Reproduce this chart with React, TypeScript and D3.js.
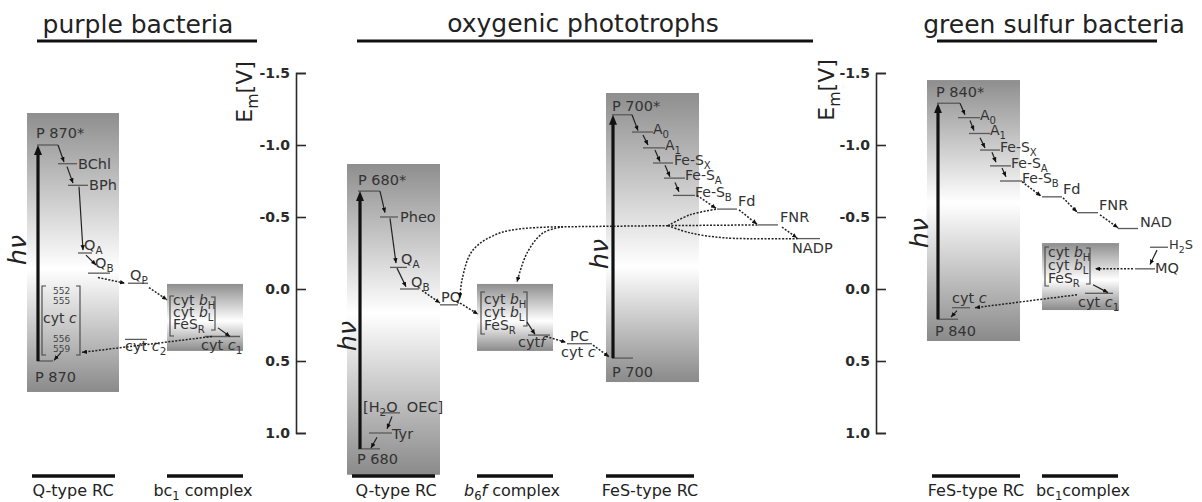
import React, { useEffect, useRef } from "react";
import * as d3 from "d3";

// ---------- data: midpoint potentials E_m [V] ----------
const emTicks = [-1.5, -1.0, -0.5, 0.0, 0.5, 1.0];

const purpleIds = ["P870*", "BChl", "BPh", "QA", "QB", "QP", "cytc2", "cytc1", "P870"];
const purpleEm = [-1.0, -0.87, -0.72, -0.25, -0.11, -0.04, 0.35, 0.33, 0.5];

const oxyIds = ["P680*", "Pheo", "QA", "QB", "PQ", "cytf", "PC", "P700", "P700*", "A0", "A1",
  "FeSX", "FeSA", "FeSB", "Fd", "FNR", "NADP", "H2O", "Tyr", "P680"];
const oxyEm = [-0.68, -0.5, -0.15, 0.0, 0.11, 0.32, 0.38, 0.48, -1.21, -1.09, -0.98,
  -0.875, -0.77, -0.65, -0.555, -0.445, -0.35, 0.86, 1.0, 1.11];

const greenIds = ["P840*", "A0", "A1", "FeSX", "FeSA", "FeSB", "Fd", "FNR", "NAD", "H2S", "MQ",
  "cytc1", "cytc", "P840"];
const greenEm = [-1.29, -1.19, -1.08, -0.965, -0.855, -0.75, -0.64, -0.53, -0.42, -0.29, -0.14,
  0.03, 0.13, 0.21];

const titles = ["purple bacteria", "oxygenic phototrophs", "green sulfur bacteria"];

// ---------- layout (pixels) ----------
type Part = [string, string?];
type Lab = { id: string; x: number; dy: number; parts: Part[]; size?: number };

const purpleX: Record<string, [number, number]> = {
  "P870*": [37, 58], BChl: [58, 77], BPh: [68, 88], QA: [78, 92], QB: [88, 110],
  QP: [128, 148], cytc2: [125, 147], cytc1: [205, 240], P870: [37, 53],
};
const oxyX: Record<string, [number, number]> = {
  "P680*": [358, 380], Pheo: [380, 398], QA: [390, 407], QB: [400, 419], PQ: [440, 458],
  cytf: [528, 550], PC: [567, 592], P700: [612, 633], "P700*": [612, 632], A0: [632, 653],
  A1: [643, 665], FeSX: [653, 673], FeSA: [664, 685], FeSB: [673, 695], Fd: [717, 737],
  FNR: [758, 778], NADP: [798, 820], H2O: [380, 400], Tyr: [369, 392], P680: [358, 380],
};
const greenX: Record<string, [number, number]> = {
  "P840*": [937, 960], A0: [958, 980], A1: [969, 990], FeSX: [980, 1000], FeSA: [990, 1011],
  FeSB: [1000, 1022], Fd: [1042, 1062], FNR: [1077, 1098], NAD: [1118, 1138], H2S: [1150, 1168],
  MQ: [1135, 1155], cytc1: [1085, 1113], cytc: [952, 970], P840: [937, 958],
};

const purpleLabels: Lab[] = [
  { id: "P870*", x: 36, dy: -7, parts: [["P 870*"]] },
  { id: "BChl", x: 78, dy: 5, parts: [["BChl"]] },
  { id: "BPh", x: 89, dy: 5, parts: [["BPh"]] },
  { id: "QA", x: 84, dy: -3, parts: [["Q"], ["A", "s"]] },
  { id: "QB", x: 95, dy: -5, parts: [["Q"], ["B", "s"]] },
  { id: "QP", x: 130, dy: -3, parts: [["Q"], ["P", "s"]] },
  { id: "cytc2", x: 125, dy: 12, parts: [["cyt "], ["c", "i"], ["2", "s"]] },
  { id: "cytc1", x: 201, dy: 13, parts: [["cyt "], ["c", "i"], ["1", "s"]] },
  { id: "P870", x: 35, dy: 21, parts: [["P 870"]] },
];
const oxyLabels: Lab[] = [
  { id: "P680*", x: 358, dy: -6, parts: [["P 680*"]] },
  { id: "Pheo", x: 400, dy: 5, parts: [["Pheo"]] },
  { id: "QA", x: 401, dy: -3, parts: [["Q"], ["A", "s"]] },
  { id: "QB", x: 411, dy: -2, parts: [["Q"], ["B", "s"]] },
  { id: "PQ", x: 441, dy: -3, parts: [["PQ"]] },
  { id: "cytf", x: 518, dy: 12, parts: [["cyt"], ["f", "i"]] },
  { id: "PC", x: 570, dy: -3, parts: [["PC"]] },
  { id: "PC", x: 561, dy: 13, parts: [["cyt "], ["c", "i"]] },
  { id: "P700", x: 612, dy: 19, parts: [["P 700"]] },
  { id: "P700*", x: 612, dy: -4, parts: [["P 700*"]] },
  { id: "A0", x: 653, dy: 2, parts: [["A"], ["0", "s"]], size: 14 },
  { id: "A1", x: 665, dy: 2, parts: [["A"], ["1", "s"]], size: 14 },
  { id: "FeSX", x: 674, dy: 2, parts: [["Fe-S"], ["X", "s"]], size: 14 },
  { id: "FeSA", x: 685, dy: 2, parts: [["Fe-S"], ["A", "s"]], size: 14 },
  { id: "FeSB", x: 695, dy: 2, parts: [["Fe-S"], ["B", "s"]], size: 14 },
  { id: "Fd", x: 738, dy: -3, parts: [["Fd"]] },
  { id: "FNR", x: 780, dy: -3, parts: [["FNR"]] },
  { id: "NADP", x: 792, dy: 14, parts: [["NADP"]] },
  { id: "H2O", x: 363, dy: -1, parts: [["[H"], ["2", "s"], ["O\u00a0\u00a0OEC]"]] },
  { id: "Tyr", x: 392, dy: 6, parts: [["Tyr"]] },
  { id: "P680", x: 357, dy: 15, parts: [["P 680"]] },
];
const greenLabels: Lab[] = [
  { id: "P840*", x: 936, dy: -6, parts: [["P 840*"]] },
  { id: "A0", x: 980, dy: 2, parts: [["A"], ["0", "s"]], size: 14 },
  { id: "A1", x: 990, dy: 2, parts: [["A"], ["1", "s"]], size: 14 },
  { id: "FeSX", x: 1000, dy: 2, parts: [["Fe-S"], ["X", "s"]], size: 14 },
  { id: "FeSA", x: 1011, dy: 2, parts: [["Fe-S"], ["A", "s"]], size: 14 },
  { id: "FeSB", x: 1022, dy: 2, parts: [["Fe-S"], ["B", "s"]], size: 14 },
  { id: "Fd", x: 1063, dy: -3, parts: [["Fd"]] },
  { id: "FNR", x: 1099, dy: -3, parts: [["FNR"]] },
  { id: "NAD", x: 1140, dy: -2, parts: [["NAD"]] },
  { id: "H2S", x: 1169, dy: 2, parts: [["H"], ["2", "s"], ["S"]], size: 13 },
  { id: "MQ", x: 1155, dy: 4, parts: [["MQ"]] },
  { id: "cytc1", x: 1078, dy: 14, parts: [["cyt "], ["c", "i"], ["1", "s"]] },
  { id: "cytc", x: 952, dy: -5, parts: [["cyt "], ["c", "i"]] },
  { id: "P840", x: 935, dy: 17, parts: [["P 840"]] },
];

const panels = [
  { key: "p", ids: purpleIds, em: purpleEm, xs: purpleX, labels: purpleLabels },
  { key: "o", ids: oxyIds, em: oxyEm, xs: oxyX, labels: oxyLabels },
  { key: "g", ids: greenIds, em: greenEm, xs: greenX, labels: greenLabels },
];

// grey complexes: x1, x2, top E, bottom E, where the gradient turns white
const boxes = [
  { x1: 27, x2: 119, e1: -1.222, e2: 0.715, w: 0.56 },
  { x1: 167, x2: 243, e1: -0.035, e2: 0.43, w: 0.55 },
  { x1: 347, x2: 440, e1: -0.868, e2: 1.29, w: 0.48 },
  { x1: 477, x2: 553, e1: -0.035, e2: 0.43, w: 0.55 },
  { x1: 606, x2: 699, e1: -1.361, e2: 0.646, w: 0.6 },
  { x1: 927, x2: 1020, e1: -1.451, e2: 0.361, w: 0.47 },
  { x1: 1042, x2: 1119, e1: -0.319, e2: 0.146, w: 0.55 },
];

const cytRows: Part[][] = [
  [["cyt "], ["b", "i"], ["H", "s"]],
  [["cyt "], ["b", "i"], ["L", "s"]],
  [["FeS"], ["R", "s"]],
];
const brackets = [
  { lx: 170, top: 296, bot: 336, base: 305, step: 12, rx: 215, rTop: 297, rBot: 330 },
  { lx: 481, top: 292, bot: 334, base: 304, step: 13, rx: 527, rTop: 292, rBot: 326 },
  { lx: 1045, top: 247, bot: 286, base: 257, step: 13, rx: 1090, rTop: 248, rBot: 284 },
];

type Pt = [number, number]; // [x px, E V]
type Arrow = { kind: "thick" | "thin" | "dot" | "line"; pts: Pt[]; curve?: boolean };
const arrows: Arrow[] = [
  // purple bacteria
  { kind: "thick", pts: [[38, 0.5], [38, -1.0]] },
  { kind: "thin", pts: [[58, -1.0], [64, -0.882]] },
  { kind: "thin", pts: [[67, -0.85], [73, -0.735]] },
  { kind: "thin", pts: [[79, -0.71], [83, -0.27]] },
  { kind: "thin", pts: [[86, -0.235], [96, -0.167]] },
  { kind: "dot", pts: [[98, -0.08], [125, -0.04]] },
  { kind: "dot", pts: [[149, -0.01], [167, 0.075]] },
  { kind: "thin", pts: [[218, 0.27], [230, 0.33]] },
  { kind: "dot", pts: [[212, 0.33], [82, 0.44]] },
  { kind: "thin", pts: [[61, 0.44], [54, 0.495]] },
  // oxygenic: PS II
  { kind: "thick", pts: [[360, 1.11], [360, -0.68]] },
  { kind: "thin", pts: [[380, -0.68], [385, -0.53]] },
  { kind: "thin", pts: [[390, -0.49], [396, -0.18]] },
  { kind: "thin", pts: [[397, -0.145], [406, -0.015]] },
  { kind: "dot", pts: [[422, 0.01], [440, 0.097]] },
  { kind: "dot", pts: [[457, 0.085], [478, 0.175]] },
  { kind: "thin", pts: [[527, 0.23], [535, 0.315]] },
  { kind: "dot", pts: [[546, 0.33], [566, 0.37]] },
  { kind: "dot", pts: [[593, 0.39], [609, 0.47]] },
  { kind: "thin", pts: [[392, 0.885], [387, 0.97]] },
  { kind: "thin", pts: [[377, 1.03], [371, 1.105]] },
  // oxygenic: PS I
  { kind: "thick", pts: [[613, 0.48], [613, -1.21]] },
  { kind: "thin", pts: [[632, -1.21], [638, -1.1]] },
  { kind: "thin", pts: [[643, -1.07], [648, -1.0]] },
  { kind: "thin", pts: [[655, -0.965], [660, -0.885]] },
  { kind: "thin", pts: [[665, -0.86], [670, -0.78]] },
  { kind: "thin", pts: [[675, -0.74], [679, -0.675]] },
  { kind: "dot", pts: [[697, -0.65], [716, -0.56]] },
  { kind: "dot", pts: [[739, -0.55], [757, -0.45]] },
  { kind: "dot", pts: [[782, -0.43], [797, -0.355]] },
  // cyclic electron flow
  { kind: "line", pts: [[668, -0.44], [690, -0.515], [717, -0.555]], curve: true },
  { kind: "line", pts: [[668, -0.44], [758, -0.445]] },
  { kind: "line", pts: [[668, -0.44], [690, -0.39], [725, -0.355], [798, -0.35]], curve: true },
  { kind: "line", pts: [[668, -0.44], [563, -0.432]] },
  { kind: "dot", pts: [[563, -0.432], [503, -0.396], [473, -0.271], [462, -0.063], [460, 0.063]], curve: true },
  { kind: "dot", pts: [[563, -0.432], [543, -0.389], [527, -0.25], [517, -0.049]], curve: true },
  // green sulfur bacteria
  { kind: "thick", pts: [[938, 0.21], [938, -1.29]] },
  { kind: "thin", pts: [[960, -1.29], [965, -1.21]] },
  { kind: "thin", pts: [[970, -1.17], [974, -1.1]] },
  { kind: "thin", pts: [[980, -1.05], [985, -0.98]] },
  { kind: "thin", pts: [[992, -0.95], [996, -0.88]] },
  { kind: "thin", pts: [[1002, -0.84], [1006, -0.78]] },
  { kind: "dot", pts: [[1022, -0.745], [1041, -0.645]] },
  { kind: "dot", pts: [[1063, -0.633], [1077, -0.535]] },
  { kind: "dot", pts: [[1100, -0.515], [1118, -0.425]] },
  { kind: "thin", pts: [[1157, -0.27], [1150, -0.17]] },
  { kind: "dot", pts: [[1133, -0.14], [1095, -0.14]] },
  { kind: "thin", pts: [[1093, -0.03], [1108, 0.025]] },
  { kind: "dot", pts: [[1077, 0.04], [975, 0.13]] },
  { kind: "thin", pts: [[957, 0.15], [951, 0.195]] },
];

const FONT = "DejaVu Sans, Verdana, sans-serif";
const INK = "#2a2a2a";

function Rich({ x, y, parts, size = 14.5, anchor = "start", fill = "#333" }: any) {
  let low = false;
  const spans = parts.map((p: Part, k: number) => {
    const st = p[1] || "";
    const sub = st.includes("s");
    let dy: number | undefined;
    if (sub && !low) { dy = size * 0.28; low = true; }
    else if (!sub && low) { dy = -size * 0.28; low = false; }
    return (
      <tspan key={k} dy={dy} fontSize={sub ? size * 0.72 : undefined}
        fontStyle={st.includes("i") ? "italic" : undefined}>{p[0]}</tspan>
    );
  });
  return (
    <text x={x} y={y} fontSize={size} fontFamily={FONT} fill={fill} textAnchor={anchor}>{spans}</text>
  );
}

export default function App() {
  const axL = useRef<SVGGElement>(null);
  const axR = useRef<SVGGElement>(null);
  const y = d3.scaleLinear().domain([-1.5, 1.0]).range([73, 433]);

  useEffect(() => {
    [axL.current, axR.current].forEach((node) => {
      const g = d3.select(node as SVGGElement);
      g.selectAll("*").remove();
      g.call(
        d3.axisLeft(y).tickValues(emTicks).tickFormat((d: any) => (+d).toFixed(1))
          .tickSizeInner(-10).tickSizeOuter(-10).tickPadding(6)
      );
      g.select(".domain").attr("stroke", INK).attr("stroke-width", 1.6);
      g.selectAll(".tick line").attr("stroke", INK).attr("stroke-width", 1.6);
      g.selectAll(".tick text").attr("font-family", FONT).attr("font-weight", "bold")
        .attr("font-size", 14).attr("fill", INK);
    });
  }, []);

  const straight = d3.line<Pt>().x((d) => d[0]).y((d) => y(d[1]));
  const curved = d3.line<Pt>().x((d) => d[0]).y((d) => y(d[1])).curve(d3.curveCatmullRom.alpha(0.5));

  const arrowPath = (a: Arrow) => {
    let pts = a.pts;
    if (a.kind === "thick") {
      // stop the shaft short so the head carries the tip
      const [x0, e0] = pts[0];
      const [x1, e1] = pts[1];
      const y0 = y(e0), y1 = y(e1);
      const len = Math.hypot(x1 - x0, y1 - y0);
      const t = (len - 6) / len;
      const ye = y0 + (y1 - y0) * t;
      pts = [pts[0], [x0 + (x1 - x0) * t, y.invert(ye)]];
    }
    return (a.curve ? curved : straight)(pts) || "";
  };

  const hv = [
    [18, 250], [348, 336], [600, 254], [920, 233],
  ];
  const emLabel = [[244, 92], [826, 90]];
  const heads = [
    { x1: 37, x2: 257, y: 41, tx: 138, ty: 33 },
    { x1: 357, x2: 813, y: 41, tx: 583, ty: 32 },
    { x1: 937, x2: 1157, y: 41, tx: 1054, ty: 33 },
  ];
  const feet = [
    { x1: 32, x2: 115, c: 73, parts: [["Q-type RC"]] },
    { x1: 167, x2: 243, c: 203, parts: [["bc"], ["1", "s"], [" complex"]] },
    { x1: 352, x2: 435, c: 396, parts: [["Q-type RC"]] },
    { x1: 477, x2: 553, c: 512, parts: [["b", "i"], ["6", "s"], ["f", "i"], [" complex"]] },
    { x1: 606, x2: 694, c: 650, parts: [["FeS-type RC"]] },
    { x1: 932, x2: 1020, c: 976, parts: [["FeS-type RC"]] },
    { x1: 1042, x2: 1118, c: 1083, parts: [["bc"], ["1", "s"], ["complex"]] },
  ];
  const cytcNums = [["552", 294], ["555", 304], ["556", 342], ["559", 352]];

  return (
    <svg width={1202} height={502} style={{ position: "absolute", left: 0, top: 0, background: "#fff" }}>
      <defs>
        {boxes.map((b, i) => (
          <linearGradient key={i} id={"box" + i} x1="0" y1="0" x2="0" y2="1">
            <stop offset="0" stopColor="#8e8e8e" />
            <stop offset={b.w} stopColor="#ffffff" />
            <stop offset="1" stopColor="#8a8a8a" />
          </linearGradient>
        ))}
        <marker id="hThick" viewBox="0 0 10 10" refX="4" refY="5" markerWidth="10" markerHeight="8"
          orient="auto" markerUnits="userSpaceOnUse" preserveAspectRatio="none">
          <path d="M0,0L10,5L0,10z" fill="#111" />
        </marker>
        <marker id="hThin" viewBox="0 0 10 10" refX="10" refY="5" markerWidth="5" markerHeight="4.5"
          orient="auto" markerUnits="userSpaceOnUse" preserveAspectRatio="none">
          <path d="M0,0L10,5L0,10z" fill="#111" />
        </marker>
      </defs>

      {boxes.map((b, i) => (
        <rect key={i} x={b.x1} y={y(b.e1)} width={b.x2 - b.x1} height={y(b.e2) - y(b.e1)}
          fill={`url(#box${i})`} />
      ))}

      {/* headings */}
      {heads.map((h, i) => (
        <g key={i}>
          <text x={h.tx} y={h.ty} textAnchor="middle" fontFamily={FONT} fontSize={25} fill="#222">{titles[i]}</text>
          <line x1={h.x1} x2={h.x2} y1={h.y} y2={h.y} stroke="#111" strokeWidth={3.2} />
        </g>
      ))}
      {feet.map((f, i) => (
        <g key={i}>
          <line x1={f.x1} x2={f.x2} y1={476} y2={476} stroke="#111" strokeWidth={3.5} />
          <Rich x={f.c} y={496} parts={f.parts} size={16} anchor="middle" fill="#222" />
        </g>
      ))}

      {/* axes */}
      <g ref={axL} transform="translate(296,0)" />
      <g ref={axR} transform="translate(876,0)" />
      {emLabel.map(([cx, cy], i) => (
        <g key={i} transform={`translate(${cx + 8},${cy}) rotate(-90)`}>
          <Rich x={0} y={0} parts={[["E"], ["m", "s"], ["[V]"]]} size={22} anchor="middle" fill="#222" />
        </g>
      ))}
      {hv.map(([cx, cy], i) => (
        <text key={i} transform={`translate(${cx + 8},${cy}) rotate(-90)`} textAnchor="middle"
          fontFamily={FONT} fontStyle="italic" fontSize={25} fill="#222">hν</text>
      ))}

      {/* energy levels */}
      {panels.map((p) =>
        p.ids.map((id, i) => {
          const [x1, x2] = p.xs[id];
          const yy = y(p.em[i]);
          return <line key={p.key + id} x1={x1} x2={x2} y1={yy} y2={yy} stroke="#5a5a5a" strokeWidth={1.3} />;
        })
      )}
      {panels.map((p) =>
        p.labels.map((l, k) => (
          <Rich key={p.key + k} x={l.x} y={y(p.em[p.ids.indexOf(l.id)]) + l.dy} parts={l.parts} size={l.size || 14.5} />
        ))
      )}

      {/* cytochrome brackets in the bc1 / b6f boxes */}
      {brackets.map((b, i) => (
        <g key={i}>
          <path d={`M${b.lx + 4},${b.top}H${b.lx}V${b.bot}H${b.lx + 4}`} fill="none" stroke="#444" strokeWidth={1.1} />
          <path d={`M${b.rx - 4},${b.rTop}H${b.rx}V${b.rBot}H${b.rx - 4}`} fill="none" stroke="#444" strokeWidth={1.1} />
          {cytRows.map((r, k) => (
            <Rich key={k} x={b.lx + 3} y={b.base + k * b.step} parts={r} size={14} />
          ))}
        </g>
      ))}

      {/* cyt c pool of purple bacteria */}
      <path d="M46,286H42V355H46" fill="none" stroke="#444" strokeWidth={1.1} />
      <path d="M76,286H80V355H76" fill="none" stroke="#444" strokeWidth={1.1} />
      {cytcNums.map(([t, yy]) => (
        <text key={t} x={53} y={yy} fontFamily={FONT} fontSize={9} fill="#444">{t}</text>
      ))}
      <Rich x={43} y={323} parts={[["cyt "], ["c", "i"]]} size={14} />

      {/* electron transfer */}
      {arrows.map((a, i) => {
        const d = arrowPath(a);
        if (a.kind === "thick")
          return <path key={i} d={d} stroke="#111" strokeWidth={3.2} fill="none" markerEnd="url(#hThick)" />;
        if (a.kind === "thin")
          return <path key={i} d={d} stroke="#222" strokeWidth={1.2} fill="none" markerEnd="url(#hThin)" />;
        return (
          <path key={i} d={d} stroke="#222" strokeWidth={1.5} fill="none" strokeDasharray="2 1.5"
            markerEnd={a.kind === "dot" ? "url(#hThin)" : undefined} />
        );
      })}
    </svg>
  );
}
